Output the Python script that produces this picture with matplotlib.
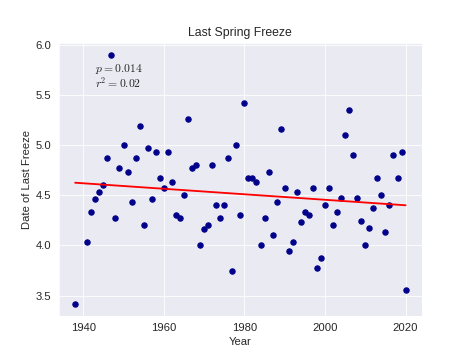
import numpy as np
import matplotlib
matplotlib.use("Agg")
import matplotlib.pyplot as plt
import seaborn as sns

years = [1938, 1941, 1942, 1943, 1944, 1945, 1946, 1947, 1948, 1949,
         1950, 1951, 1952, 1953, 1954, 1955, 1956, 1957, 1958, 1959,
         1960, 1961, 1962, 1963, 1964, 1965, 1966, 1967, 1968, 1969,
         1970, 1971, 1972, 1973, 1974, 1975, 1976, 1977, 1978, 1979,
         1980, 1981, 1982, 1983, 1984, 1985, 1986, 1987, 1988, 1989,
         1990, 1991, 1992, 1993, 1994, 1995, 1996, 1997, 1998, 1999,
         2000, 2001, 2002, 2003, 2004, 2005, 2006, 2007, 2008, 2009,
         2010, 2011, 2012, 2013, 2014, 2015, 2016, 2017, 2018, 2019,
         2020]
freeze = [3.42, 4.03, 4.33, 4.46, 4.53, 4.60, 4.87, 5.90, 4.27, 4.77,
          5.00, 4.73, 4.43, 4.87, 5.19, 4.20, 4.97, 4.46, 4.93, 4.67,
          4.57, 4.93, 4.63, 4.30, 4.27, 4.50, 5.26, 4.77, 4.80, 4.00,
          4.16, 4.20, 4.80, 4.40, 4.27, 4.40, 4.87, 3.74, 5.00, 4.30,
          5.42, 4.67, 4.67, 4.63, 4.00, 4.27, 4.73, 4.10, 4.43, 5.16,
          4.57, 3.94, 4.03, 4.53, 4.23, 4.33, 4.30, 4.57, 3.77, 3.87,
          4.40, 4.57, 4.20, 4.33, 4.47, 5.10, 5.35, 4.90, 4.47, 4.24,
          4.00, 4.17, 4.37, 4.67, 4.50, 4.13, 4.40, 4.90, 4.67, 4.93,
          3.55]
stats_text = "$p = 0.014$\n$r^2 = 0.02$"

sns.set_style("darkgrid")
plt.rcParams['font.family'] = ['Liberation Sans', 'DejaVu Sans']
plt.rcParams['mathtext.fontset'] = 'cm'
plt.rcParams['xtick.labelsize'] = 11
plt.rcParams['ytick.labelsize'] = 11
plt.rcParams['axes.labelsize'] = 11
plt.rcParams['axes.titlesize'] = 12

x = np.array(years, dtype=float)
y = np.array(freeze)
slope, intercept = np.polyfit(x, y, 1)

dpi = 73.3
fig, ax = plt.subplots(figsize=(469 / dpi, 355 / dpi), dpi=dpi)
ax.scatter(x, y, color='darkblue', s=28, zorder=3)
ax.plot(x, slope * x + intercept, color='red', lw=1.8, zorder=4)
ax.set_title("Last Spring Freeze")
ax.set_xlabel("Year")
ax.set_ylabel("Date of Last Freeze")
ax.set_xticks([1940, 1960, 1980, 2000, 2020])
ax.text(0.099, 0.93, stats_text, transform=ax.transAxes, ha='left', va='top',
        fontsize=11.5, color='0.15', linespacing=1.0)
fig.savefig("out.png", dpi=dpi)
